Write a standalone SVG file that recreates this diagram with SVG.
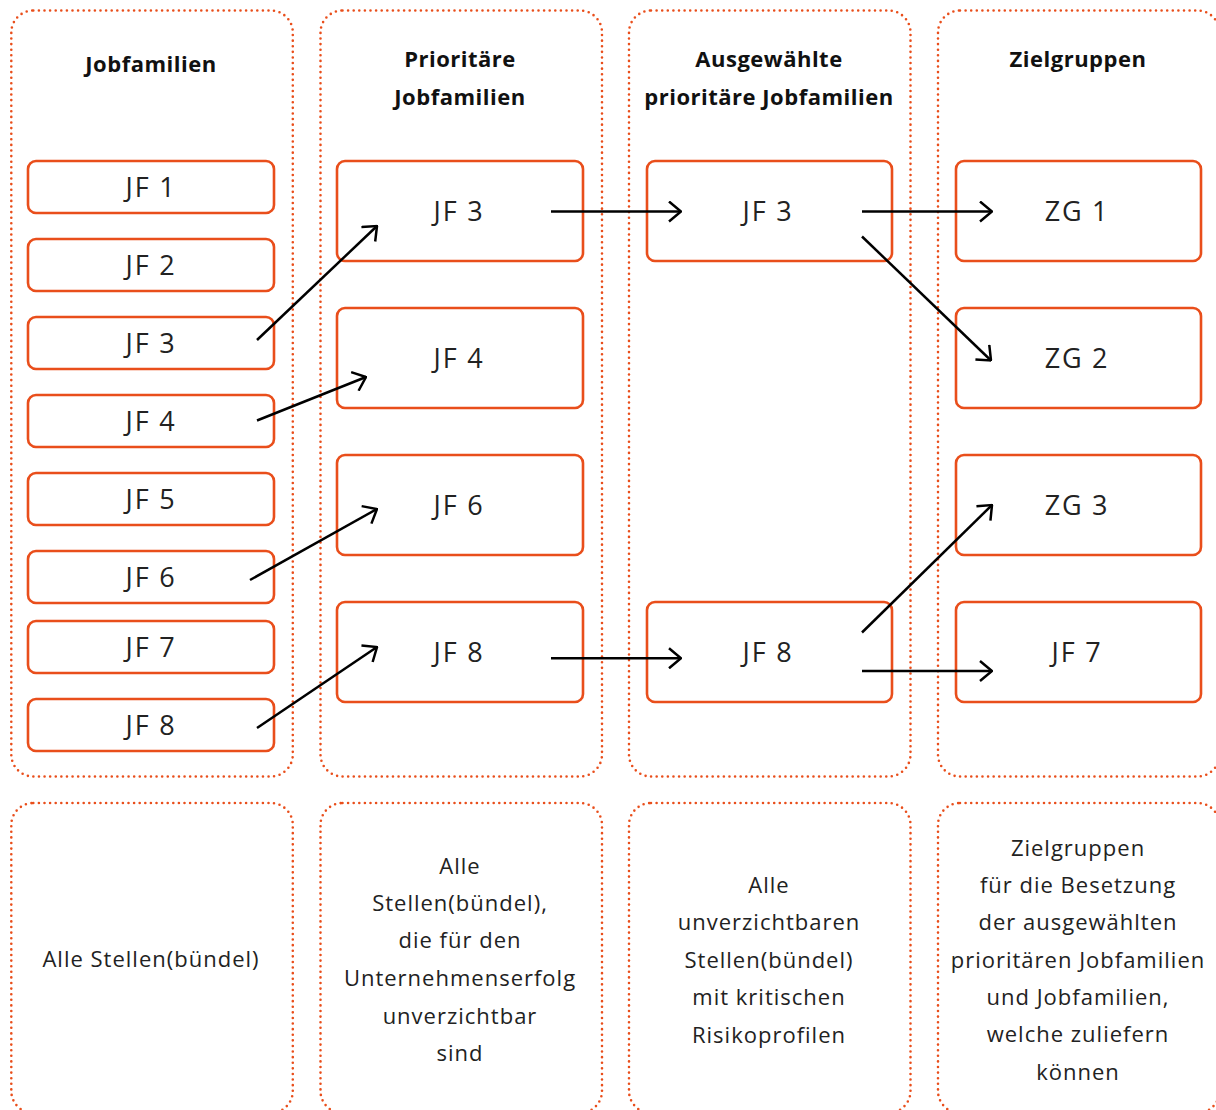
<svg xmlns="http://www.w3.org/2000/svg" width="1216" height="1110" viewBox="0 0 1216 1110">
<defs>
<style>
.col{fill:none;stroke:#e94e1b;stroke-width:2.6;stroke-dasharray:0 5.6;stroke-linecap:round}
.box{fill:#fff;stroke:#e94e1b;stroke-width:2.6}
.lbl{font-family:"Open Sans","Liberation Sans",sans-serif;font-size:27px;font-weight:400;letter-spacing:1.8px;fill:#222;text-anchor:middle}
.hd{font-family:"Open Sans","Liberation Sans",sans-serif;font-size:22px;font-weight:bold;letter-spacing:0.5px;fill:#111;text-anchor:middle}
.ds{font-family:"Open Sans","Liberation Sans",sans-serif;font-size:22px;font-weight:400;letter-spacing:1px;fill:#222;text-anchor:middle}
.arr{stroke:#000;stroke-width:2.5;fill:none;marker-end:url(#ah)}
</style>
<marker id="ah" viewBox="0 0 14 22" refX="13" refY="11" markerWidth="14" markerHeight="22" markerUnits="userSpaceOnUse" orient="auto">
<path d="M1,1 L13,11 L1,21" fill="none" stroke="#000" stroke-width="2.5"/>
</marker>
</defs>
<g id="columns">
<rect class="col" x="11.3" y="10.5" width="281.5" height="766" rx="22"/>
<rect class="col" x="320.5" y="10.5" width="281.5" height="766" rx="22"/>
<rect class="col" x="629" y="10.5" width="281.5" height="766" rx="22"/>
<rect class="col" x="938" y="10.5" width="281.5" height="766" rx="22"/>
<rect class="col" x="11.3" y="803" width="281.5" height="310" rx="22"/>
<rect class="col" x="320.5" y="803" width="281.5" height="310" rx="22"/>
<rect class="col" x="629" y="803" width="281.5" height="310" rx="22"/>
<rect class="col" x="938" y="803" width="281.5" height="310" rx="22"/>
</g>
<g id="headers">
<text class="hd" x="151" y="72">Jobfamilien</text>
<text class="hd" x="460" y="67">Prioritäre</text>
<text class="hd" x="460" y="105">Jobfamilien</text>
<text class="hd" x="769" y="67">Ausgewählte</text>
<text class="hd" x="769" y="105">prioritäre Jobfamilien</text>
<text class="hd" x="1078" y="67">Zielgruppen</text>
</g>
<g id="c1-jf1"><rect class="box" x="28" y="161" width="246" height="52" rx="8"/><text class="lbl" x="151" y="197">JF 1</text></g>
<g id="c1-jf2"><rect class="box" x="28" y="239" width="246" height="52" rx="8"/><text class="lbl" x="151" y="275">JF 2</text></g>
<g id="c1-jf3"><rect class="box" x="28" y="317" width="246" height="52" rx="8"/><text class="lbl" x="151" y="353">JF 3</text></g>
<g id="c1-jf4"><rect class="box" x="28" y="395" width="246" height="52" rx="8"/><text class="lbl" x="151" y="431">JF 4</text></g>
<g id="c1-jf5"><rect class="box" x="28" y="473" width="246" height="52" rx="8"/><text class="lbl" x="151" y="509">JF 5</text></g>
<g id="c1-jf6"><rect class="box" x="28" y="551" width="246" height="52" rx="8"/><text class="lbl" x="151" y="587">JF 6</text></g>
<g id="c1-jf7"><rect class="box" x="28" y="621" width="246" height="52" rx="8"/><text class="lbl" x="151" y="657">JF 7</text></g>
<g id="c1-jf8"><rect class="box" x="28" y="699" width="246" height="52" rx="8"/><text class="lbl" x="151" y="735">JF 8</text></g>
<g id="c2-jf3"><rect class="box" x="337" y="161" width="246" height="100" rx="8"/><text class="lbl" x="459" y="221">JF 3</text></g>
<g id="c2-jf4"><rect class="box" x="337" y="308" width="246" height="100" rx="8"/><text class="lbl" x="459" y="368">JF 4</text></g>
<g id="c2-jf6"><rect class="box" x="337" y="455" width="246" height="100" rx="8"/><text class="lbl" x="459" y="515">JF 6</text></g>
<g id="c2-jf8"><rect class="box" x="337" y="602" width="246" height="100" rx="8"/><text class="lbl" x="459" y="662">JF 8</text></g>
<g id="c3-jf3"><rect class="box" x="647" y="161" width="245" height="100" rx="8"/><text class="lbl" x="768" y="221">JF 3</text></g>
<g id="c3-jf8"><rect class="box" x="647" y="602" width="245" height="100" rx="8"/><text class="lbl" x="768" y="662">JF 8</text></g>
<g id="c4-zg1"><rect class="box" x="956" y="161" width="245" height="100" rx="8"/><text class="lbl" x="1077" y="221">ZG 1</text></g>
<g id="c4-zg2"><rect class="box" x="956" y="308" width="245" height="100" rx="8"/><text class="lbl" x="1077" y="368">ZG 2</text></g>
<g id="c4-zg3"><rect class="box" x="956" y="455" width="245" height="100" rx="8"/><text class="lbl" x="1077" y="515">ZG 3</text></g>
<g id="c4-jf7"><rect class="box" x="956" y="602" width="245" height="100" rx="8"/><text class="lbl" x="1077" y="662">JF 7</text></g>
<g id="connectors">
<line class="arr" x1="257" y1="340" x2="377" y2="226"/>
<line class="arr" x1="257" y1="420.5" x2="366" y2="377"/>
<line class="arr" x1="250" y1="580" x2="377" y2="509"/>
<line class="arr" x1="257" y1="728" x2="377" y2="647"/>
<line class="arr" x1="551" y1="211.5" x2="681" y2="211.5"/>
<line class="arr" x1="551" y1="658.3" x2="681" y2="658.3"/>
<line class="arr" x1="862" y1="211.5" x2="992" y2="211.5"/>
<line class="arr" x1="862" y1="236.5" x2="991" y2="360.5"/>
<line class="arr" x1="862" y1="632.5" x2="992" y2="505"/>
<line class="arr" x1="862" y1="671" x2="992" y2="671"/>
</g>
<g id="descriptions">
<text class="ds" x="151" y="967">Alle Stellen(bündel)</text>
<text class="ds" x="460" y="874">Alle</text>
<text class="ds" x="460" y="911">Stellen(bündel),</text>
<text class="ds" x="460" y="948">die für den</text>
<text class="ds" x="460" y="986">Unternehmenserfolg</text>
<text class="ds" x="460" y="1024">unverzichtbar</text>
<text class="ds" x="460" y="1061">sind</text>
<text class="ds" x="769" y="893">Alle</text>
<text class="ds" x="769" y="930">unverzichtbaren</text>
<text class="ds" x="769" y="968">Stellen(bündel)</text>
<text class="ds" x="769" y="1005">mit kritischen</text>
<text class="ds" x="769" y="1043">Risikoprofilen</text>
<text class="ds" x="1078" y="856">Zielgruppen</text>
<text class="ds" x="1078" y="893">für die Besetzung</text>
<text class="ds" x="1078" y="930">der ausgewählten</text>
<text class="ds" x="1078" y="968">prioritären Jobfamilien</text>
<text class="ds" x="1078" y="1005">und Jobfamilien,</text>
<text class="ds" x="1078" y="1042">welche zuliefern</text>
<text class="ds" x="1078" y="1080">können</text>
</g>
</svg>
